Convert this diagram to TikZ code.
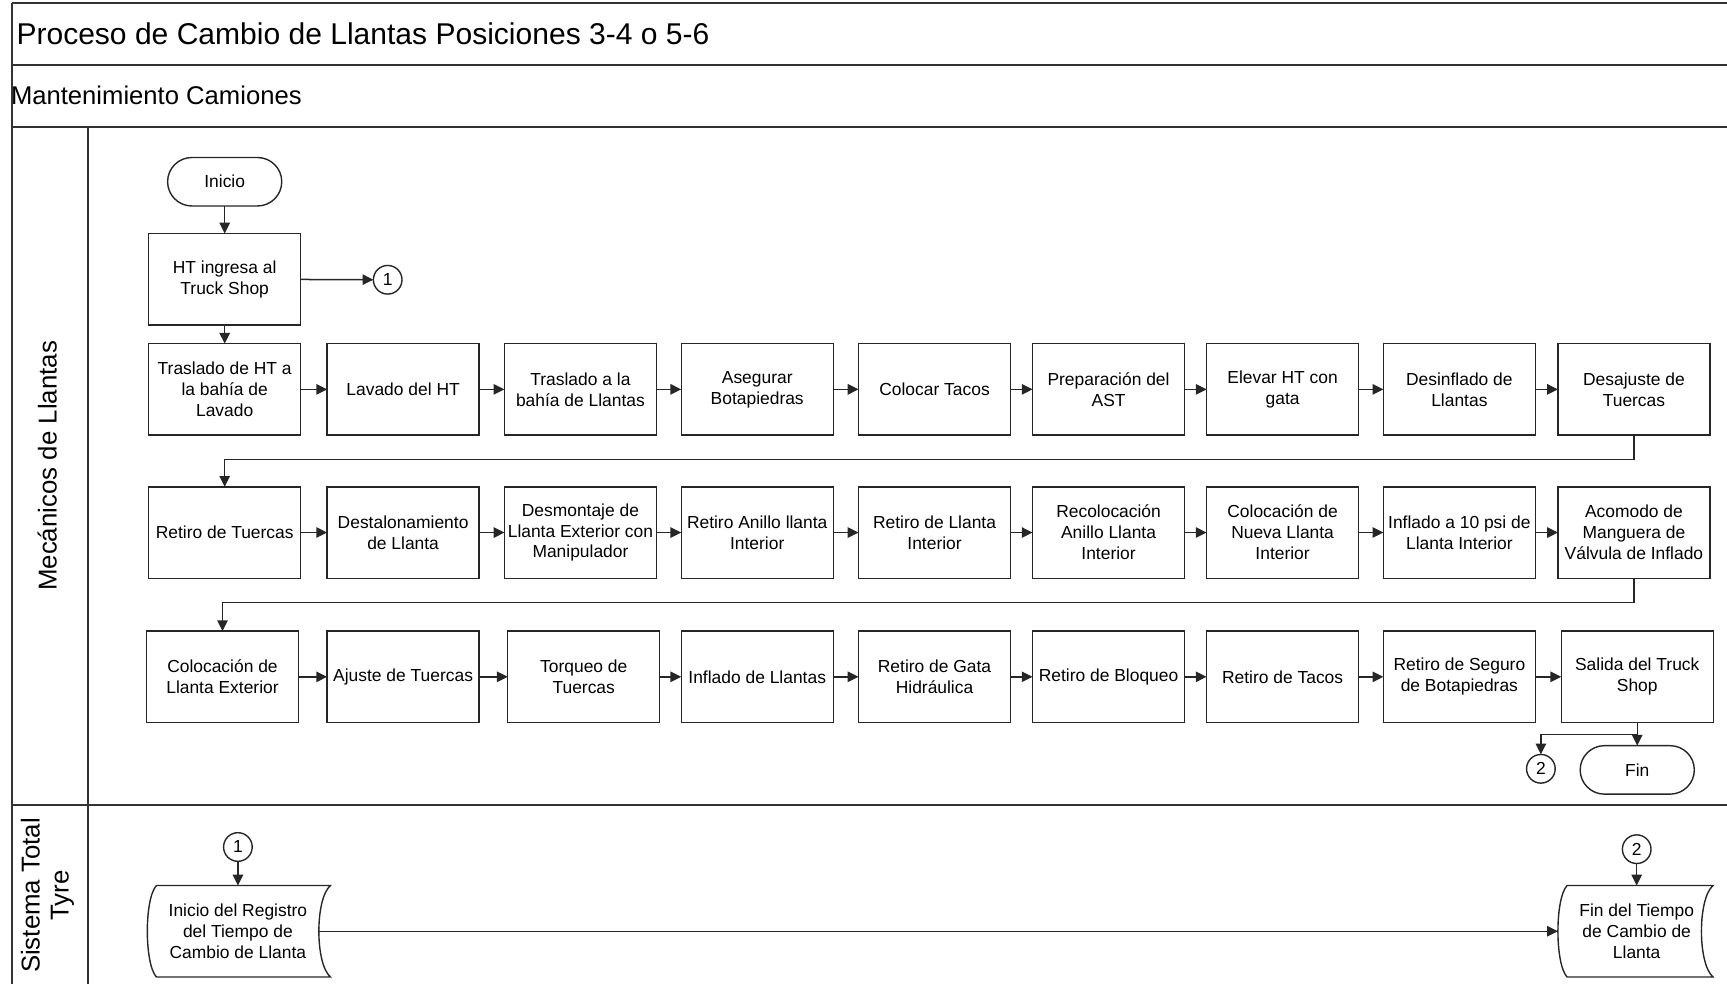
\documentclass[tikz,border=0pt]{standalone}
\usepackage{fontspec}
\setmainfont{Liberation Sans}
\usetikzlibrary{arrows.meta,calc}
\begin{document}
\begin{tikzpicture}[x=0.55pt,y=-0.55pt,
  every node/.style={inner sep=0pt,outer sep=0pt},
  boxfont/.style={font=\fontsize{8.7}{10.45}\selectfont},
  proc/.style={boxfont,draw=black!85,line width=0.7pt,minimum width=75.9pt,minimum height=45.65pt,align=center},
  term/.style={boxfont,draw=black!85,line width=0.7pt,rounded corners=12.1pt,minimum width=57pt,minimum height=24.2pt},
  conn/.style={boxfont,draw=black!85,circle,line width=0.7pt,minimum size=14.3pt},
  docbox/.style={boxfont,minimum height=45.65pt,align=center},
  docline/.style={draw=black!85,line width=0.7pt},
  arr/.style={draw=black!85,line width=0.75pt,-{Triangle[length=5.4pt,width=5.2pt]}},
  lane/.style={draw=black!80,line width=1.1pt},
  lanelabel/.style={font=\fontsize{12.9}{14.5}\selectfont,rotate=90,align=center}
]
\useasboundingbox (0,0) rectangle (1568,893);
% frame
\draw[lane] (11,3) -- (1568,3);
\draw[lane] (11,59) -- (1568,59);
\draw[lane] (11,115) -- (1568,115);
\draw[lane] (11,731) -- (1568,731);
\draw[lane] (11,3) -- (11,893);
\draw[lane] (80,115) -- (80,893);
\node[anchor=west,font=\fontsize{15}{18}\selectfont] (title) at (15,31) {Proceso de Cambio de Llantas Posiciones 3-4 o 5-6};
\node[anchor=west,font=\fontsize{12.8}{15}\selectfont] (dept) at (10,87) {Mantenimiento Camiones};
\node[lanelabel] (lane1) at (43,423) {Mecánicos de Llantas};
\node[lanelabel] (lane2) at (43,813) {Sistema Total\\Tyre};

% start
\node[term] (inicio) at (204,165) {Inicio};
\node[proc] (ht) at (204,253.5) {HT ingresa al\\Truck Shop};
\node[conn] (c1a) at (352,254) {1};

% row 1
\node[proc] (r1a) at (204,353.5) {Traslado de HT a\\la bahía de\\Lavado};
\node[proc] (r1b) at (366,353.5) {Lavado del HT};
\node[proc] (r1c) at (527,353.5) {Traslado a la\\bahía de Llantas};
\node[proc] (r1d) at (687.5,353.5) {Asegurar\\Botapiedras};
\node[proc] (r1e) at (848.5,353.5) {Colocar Tacos};
\node[proc] (r1f) at (1006.5,353.5) {Preparación del\\AST};
\node[proc] (r1g) at (1164.5,353.5) {Elevar HT con\\gata};
\node[proc] (r1h) at (1325,353.5) {Desinflado de\\Llantas};
\node[proc] (r1i) at (1483.5,353.5) {Desajuste de\\Tuercas};

% row 2
\node[proc] (r2a) at (204,483.5) {Retiro de Tuercas};
\node[proc] (r2b) at (366,483.5) {Destalonamiento\\de Llanta};
\node[proc] (r2c) at (527,483.5) {Desmontaje de\\Llanta Exterior con\\Manipulador};
\node[proc] (r2d) at (687.5,483.5) {Retiro Anillo llanta\\Interior};
\node[proc] (r2e) at (848.5,483.5) {Retiro de Llanta\\Interior};
\node[proc] (r2f) at (1006.5,483.5) {Recolocación\\Anillo Llanta\\Interior};
\node[proc] (r2g) at (1164.5,483.5) {Colocación de\\Nueva Llanta\\Interior};
\node[proc] (r2h) at (1325,483.5) {Inflado a 10 psi de\\Llanta Interior};
\node[proc] (r2i) at (1483.5,483.5) {Acomodo de\\Manguera de\\Válvula de Inflado};

% row 3
\node[proc] (r3a) at (202,614.5) {Colocación de\\Llanta Exterior};
\node[proc] (r3b) at (366,614.5) {Ajuste de Tuercas};
\node[proc] (r3c) at (530,614.5) {Torqueo de\\Tuercas};
\node[proc] (r3d) at (687.5,614.5) {Inflado de Llantas};
\node[proc] (r3e) at (848.5,614.5) {Retiro de Gata\\Hidráulica};
\node[proc] (r3f) at (1006.5,614.5) {Retiro de Bloqueo};
\node[proc] (r3g) at (1164.5,614.5) {Retiro de Tacos};
\node[proc] (r3h) at (1325,614.5) {Retiro de Seguro\\de Botapiedras};
\node[proc] (r3i) at (1486.5,614.5) {Salida del Truck\\Shop};

% end
\node[term] (fin) at (1486.5,699) {Fin};
\node[conn] (c2a) at (1399,698) {2};

% lane 2
\node[conn] (c1b) at (216,769) {1};
\node[conn] (c2b) at (1486,771) {2};
\node[docbox,minimum width=86.9pt] (ir) at (216,845.5) {Inicio del Registro\\del Tiempo de\\Cambio de Llanta};
\node[docbox,minimum width=72.9pt] (ft) at (1486,845.5) {Fin del Tiempo\\de Cambio de\\Llanta};
\coordinate (irnw) at ($(ir.north west)+(5,0)$);
\coordinate (irne) at ($(ir.north east)+(5,0)$);
\coordinate (irsw) at ($(ir.south west)+(5,0)$);
\coordinate (irse) at ($(ir.south east)+(5,0)$);
\coordinate (ftnw) at ($(ft.north west)+(3,0)$);
\coordinate (ftne) at ($(ft.north east)+(3,0)$);
\coordinate (ftsw) at ($(ft.south west)+(3,0)$);
\coordinate (ftse) at ($(ft.south east)+(3,0)$);
\draw[docline] (irnw) -- (irne)
  .. controls ($(irne)+(-14,12)$) and ($(irse)+(-14,-12)$) .. (irse)
  -- (irsw)
  .. controls ($(irsw)+(-11,-12)$) and ($(irnw)+(-11,12)$) .. (irnw) -- cycle;
\draw[docline] (ftnw) -- (ftne)
  .. controls ($(ftne)+(-14,12)$) and ($(ftse)+(-14,-12)$) .. (ftse)
  -- (ftsw)
  .. controls ($(ftsw)+(-11,-12)$) and ($(ftnw)+(-11,12)$) .. (ftnw) -- cycle;

% connectors
\draw[arr] (inicio) -- (ht);
\draw[arr] (ht) -- (c1a);
\draw[arr] (ht) -- (r1a);
\foreach \a/\b in {r1a/r1b,r1b/r1c,r1c/r1d,r1d/r1e,r1e/r1f,r1f/r1g,r1g/r1h,r1h/r1i,
                   r2a/r2b,r2b/r2c,r2c/r2d,r2d/r2e,r2e/r2f,r2f/r2g,r2g/r2h,r2h/r2i,
                   r3a/r3b,r3b/r3c,r3c/r3d,r3d/r3e,r3e/r3f,r3f/r3g,r3g/r3h,r3h/r3i}
  \draw[arr] (\a.east) -- (\b.west |- \a.east);
\draw[arr] (r1i.south) -- ++(0,22) -| (r2a.north);
\draw[arr] (r2i.south) -- ++(0,22) -| (r3a.north);
\draw[arr] (r3i.south) -- (fin.north);
\draw[arr] ($(r3i.south)+(0,11)$) -| (c2a.north);
\draw[arr] (c1b.south) -- (c1b.south |- irnw);
\draw[arr] (c2b.south) -- (c2b.south |- ftnw);
\draw[arr] ($(irne)!0.5!(irse)+(-10.5,0)$) -- ($(ftnw)!0.5!(ftsw)+(-8.25,0)$);
\end{tikzpicture}
\end{document}
